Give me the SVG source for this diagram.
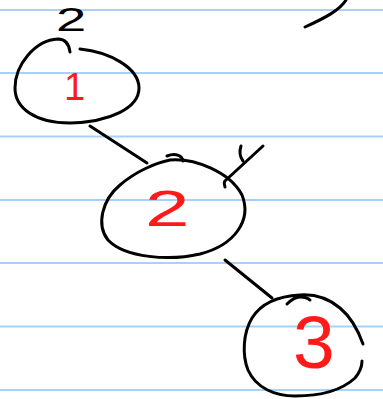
<svg xmlns="http://www.w3.org/2000/svg" width="383" height="399" viewBox="0 0 383 399">
<style>
.rule{stroke:#a8d1f7;stroke-width:2}
.ink{fill:none;stroke:#000;stroke-width:3;stroke-linecap:round;stroke-linejoin:round}
.num{fill:#ff1a1a;font-family:"Liberation Sans",Arial,sans-serif}
.lbl{fill:#000;font-family:"Liberation Sans",Arial,sans-serif}
</style>
<rect width="383" height="399" fill="#fff"/>
<g id="paper">
<line class="rule" x1="0" y1="10" x2="383" y2="10"/>
<line class="rule" x1="0" y1="73" x2="383" y2="73"/>
<line class="rule" x1="0" y1="136.5" x2="383" y2="136.5"/>
<line class="rule" x1="0" y1="200" x2="383" y2="200"/>
<line class="rule" x1="0" y1="263" x2="383" y2="263"/>
<line class="rule" x1="0" y1="326.5" x2="383" y2="326.5"/>
<line class="rule" x1="0" y1="390" x2="383" y2="390"/>
</g>
<g id="connectors">
<path class="ink" d="M90,126 L147,163"/>
<path class="ink" d="M225,260 L272,298"/>
<path class="ink" d="M225,187 C224,184 224,181 226,180 L263,146"/>
<path class="ink" d="M241,146 C239,152 240,157 243,161"/>
<path class="ink" d="M305,27 C325,18 340,10 346,0"/>
</g>
<g id="node1">
<path class="ink" d="M80,49 C110,52 139,68 139,88 C139,108 110,122 70,123 C35,123 15,108 15,88 C15,65 35,40 58,39 C66,39 69,44 70,52"/>
<text class="num" x="64" y="100" font-size="38">1</text>
<text class="lbl" transform="translate(56,31) scale(1.6,1)" font-size="34">2</text>
</g>
<g id="node2">
<path class="ink" d="M170,160 C195,158 230,172 242,195 C252,220 235,245 200,254 C170,261 125,258 108,240 C96,225 102,200 120,185 C135,172 155,163 170,160 Z"/>
<path class="ink" d="M167,156 C175,153 182,155 183,161"/>
<text class="num" transform="translate(145,226) scale(1.6,1)" font-size="50">2</text>
</g>
<g id="node3">
<path class="ink" d="M363,344 C358,330 352,318 340,308 C328,298 315,294 300,295 C280,296 262,302 252,318 C243,333 242,355 248,370 C256,388 275,396 295,396 C320,396 342,390 355,378 C360,372 362,367 362,361"/>
<path class="ink" d="M287,304 C292,299 296,297 300,297 C305,297 308,298 310,300"/>
<text class="num" x="293" y="368" font-size="75">3</text>
</g>
</svg>
